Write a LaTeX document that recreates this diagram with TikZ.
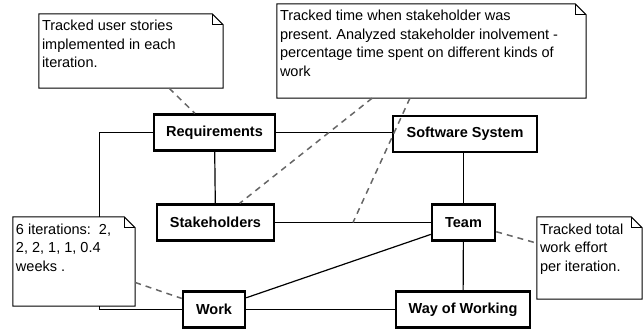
\documentclass[tikz,border=0pt]{standalone}
\usepackage{fontspec}
\setmainfont{Liberation Sans}
\frenchspacing
\newcommand{\notebody}[3]{\parbox[c][#2][t]{#1}{\raggedright\rule{0pt}{17pt}#3}}
\newcommand{\noteframe}[1]{%
  \draw[frame] (#1.south west) -- (#1.north west) -- ([xshift=-11pt]#1.north east)
    -- ([yshift=-11pt]#1.north east) -- (#1.south east) -- cycle;
  \draw[frame] ([xshift=-11pt]#1.north east) |- ([yshift=-11pt]#1.north east);}
\begin{document}
\begin{tikzpicture}[x=1pt,y=-1pt,
  box/.style={draw, line width=2.5pt, minimum height=36pt, inner sep=0pt,
    font=\fontsize{14.5}{17}\selectfont\bfseries},
  note/.style={fill=white, inner xsep=3pt, inner ysep=0pt,
    font=\fontsize{14.5}{18.5}\selectfont},
  frame/.style={line width=1pt},
  link/.style={line width=1.2pt},
  trace/.style={draw=black!60, line width=1.5pt, dash pattern=on 6pt off 5pt}]
\useasboundingbox (0,0) rectangle (644,331);

\node[box, minimum width=121pt] (req) at (214.5,132.5) {Requirements};
\node[box, minimum width=144pt] (sw) at (465,134) {Software System};
\node[box, minimum width=117pt] (stk) at (215.5,222.5) {Stakeholders};
\node[box, minimum width=63pt] (team) at (463.5,222.5) {Team};
\node[box, minimum width=62pt] (work) at (214,309.5) {Work};
\node[box, minimum width=134pt] (wow) at (463,309.5) {Way of Working};

\path[draw,link] (req.east) -- (req.east -| sw.west);
\path[draw,link] (req) -- (stk);
\path[draw,link] (req.west) -- ++(-53,0) |- (work.west);
\path[draw,link] (stk) -- coordinate[midway] (assoc) (team);
\path[draw,link] (team.north) -- (team.north |- sw.south);
\path[draw,link] (team) -- (wow);
\path[draw,link] (team.200) -- (work.20);
\path[draw,link] (work) -- (wow);

\node[note] (n1) at (131,51) {\notebody{178pt}{74pt}{Tracked user stories\\
  implemented in each\\ iteration.}};
\node[note] (n2) at (431.5,51) {\notebody{303pt}{94pt}{Tracked time when stakeholder was\\
  present. Analyzed stakeholder inolvement -\\
  percentage time spent on different kinds of\\ work}};
\node[note] (n3) at (74,261.5) {\notebody{116pt}{89pt}{6 iterations:\ \ 2,\\
  2, 2, 1, 1, 0.4\\ weeks .}};
\node[note] (n4) at (589.5,258) {\notebody{99pt}{82pt}{Tracked total\\
  work effort\\ per iteration.}};
\noteframe{n1}
\noteframe{n2}
\noteframe{n3}
\noteframe{n4}

\path[trace] (n1) -- (req);
\path[trace] (n2) -- (stk);
\path[trace] (n2) -- (assoc);
\path[trace] (n3) -- (work);
\path[trace] (team) -- (n4);
\end{tikzpicture}
\end{document}
